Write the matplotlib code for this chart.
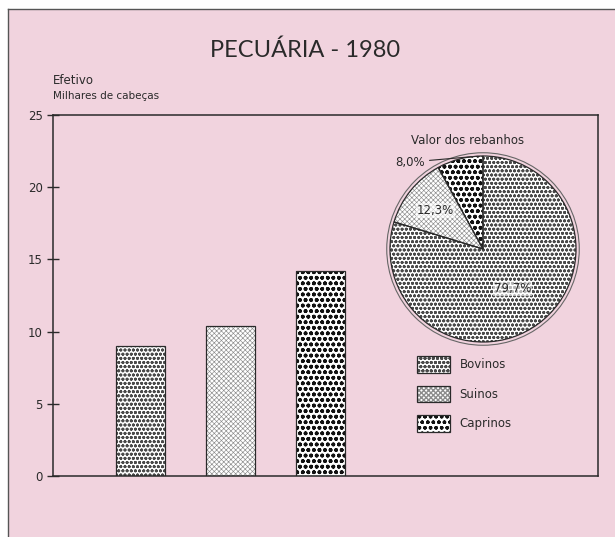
import numpy as np
import matplotlib
matplotlib.use("Agg")
import matplotlib.pyplot as plt
from matplotlib.patches import Rectangle, Circle, Wedge
from matplotlib.lines import Line2D

# data
categories = ["Bovinos", "Suinos", "Caprinos"]
efetivo = [9.0, 10.4, 14.2]           # milhares de cabeças
valor_pct = [79.7, 12.3, 8.0]         # valor dos rebanhos (%)
y_ticks = [0, 5, 10, 15, 20, 25]

W, H = 615, 537
PINK = "#f1d3de"
INK = "#2a2a2a"
FONT = "DejaVu Sans"

# hatch styles per category: (hatch, hatch colour, hatch linewidth)
styles = {
    "Bovinos": ("oooo", "#4a4a4a", 0.9),
    "Suinos": ("xxxxxxx", "#8c8c8c", 0.45),
    "Caprinos": ("ooo", "#111111", 1.15),
}


def fx(px):
    return px / W


def fy(py):
    return (H - py) / H


def hatched(patch_cls, *args, cat, **kw):
    hatch, hcol, hlw = styles[cat]
    with plt.rc_context({"hatch.linewidth": hlw}):
        p = patch_cls(*args, facecolor="white", edgecolor=hcol, hatch=hatch,
                      linewidth=0, **kw)
    if hasattr(p, "set_hatch_linewidth"):
        p.set_hatch_linewidth(hlw)
    return p


fig = plt.figure(figsize=(W / 100, H / 100), dpi=100, facecolor="white")

# pink card with top/left frame lines
fig.patches.append(Rectangle((fx(8), 0), 1 - fx(8), fy(9), transform=fig.transFigure,
                             facecolor=PINK, edgecolor="none", zorder=-5))
fig.add_artist(Line2D([fx(8), 1], [fy(9), fy(9)], color="#555555", lw=1.0, zorder=-4))
fig.add_artist(Line2D([fx(8), fx(8)], [0, fy(9)], color="#555555", lw=1.0, zorder=-4))

fig.text(fx(305), fy(50), "PECUÁRIA - 1980", ha="center", va="center",
         fontsize=17, color=INK, family="Lato")
fig.text(fx(53), fy(81), "Efetivo", ha="left", va="center", fontsize=8.5,
         color=INK, family=FONT)
fig.text(fx(53), fy(96), "Milhares de cabeças", ha="left", va="center",
         fontsize=7.5, color=INK, family=FONT)

# bar chart
ax = fig.add_axes([fx(53), fy(476), fx(598) - fx(53), fy(115) - fy(476)])
ax.set_facecolor("none")
step = 90.0
ax.set_xlim(-(140 - 53) / step, (598 - 140) / step)
ax.set_ylim(0, 25)
ax.set_yticks(y_ticks)
ax.set_xticks([])
ax.tick_params(axis="y", direction="inout", length=9, width=1.0, colors=INK,
               labelsize=8.5, pad=3)
for s in ax.spines.values():
    s.set_color(INK)
    s.set_linewidth(1.1)

width = 49 / step
for i, (cat, v) in enumerate(zip(categories, efetivo)):
    ax.add_patch(hatched(Rectangle, (i - width / 2, 0), width, v, cat=cat, zorder=2))
    ax.bar(i, v, width=width, facecolor="none", edgecolor=INK, linewidth=0.9, zorder=3)

# pie chart
S = 200
ax2 = fig.add_axes([fx(483 - S / 2), fy(249 + S / 2), S / W, S / H])
ax2.set_facecolor("none")
ax2.axis("off")
wedges, _ = ax2.pie(valor_pct, startangle=90, counterclock=False, radius=1.0,
                    wedgeprops=dict(linewidth=0))
for w, cat in zip(wedges, categories):
    w.set_visible(False)
    ax2.add_patch(hatched(Wedge, w.center, w.r, w.theta1, w.theta2, cat=cat, zorder=2))
    ax2.add_patch(Wedge(w.center, w.r, w.theta1, w.theta2, facecolor="none",
                        edgecolor=INK, linewidth=0.9, zorder=3))
ax2.add_patch(Circle((0, 0), 1.035, facecolor="none", edgecolor="#666666",
                     linewidth=0.8, zorder=3))
lim = (S / 2) / 93
ax2.set_xlim(-lim, lim)
ax2.set_ylim(-lim, lim)
ax2.set_aspect("equal")


def pct(v):
    return f"{v:.1f}%".replace(".", ",")


dists = [0.53, 0.66]
for w, v, d in zip(wedges[:2], valor_pct[:2], dists):
    a = np.deg2rad((w.theta1 + w.theta2) / 2)
    ax2.text(d * np.cos(a), d * np.sin(a), pct(v), ha="center", va="center",
             fontsize=8.5, color=INK, family=FONT, zorder=4,
             bbox=dict(facecolor="white", edgecolor="none", pad=0.5, alpha=0.6))
w = wedges[2]
a = np.deg2rad(w.theta1 + 0.25 * (w.theta2 - w.theta1))
ax2.annotate(pct(valor_pct[2]), xy=(np.cos(a), np.sin(a)), xytext=(-0.62, 0.935),
             ha="right", va="center", fontsize=8.5, color=INK, family=FONT,
             arrowprops=dict(arrowstyle="-", color=INK, lw=0.8,
                             shrinkA=1, shrinkB=0))
fig.text(fx(468), fy(140), "Valor dos rebanhos", ha="center", va="center",
         fontsize=8.5, color=INK, family=FONT)

# legend: hatched swatch with a dark outline on top
handles = []
for cat in categories:
    fill = hatched(Rectangle, (0, 0), 1, 1, cat=cat)
    outline = Rectangle((0, 0), 1, 1, facecolor="none", edgecolor=INK, linewidth=0.9)
    handles.append((fill, outline))
fs = 8.5
leg = fig.legend(handles, categories, loc="upper left",
                 bbox_to_anchor=(fx(417), fy(356)), frameon=False, fontsize=fs,
                 handlelength=33 / (fs * 100 / 72), handleheight=21 / (fs * 100 / 72),
                 labelspacing=1.1, handletextpad=0.8, borderpad=0, borderaxespad=0)
for t in leg.get_texts():
    t.set_color(INK)
    t.set_family(FONT)

fig.savefig("out.png", dpi=100, facecolor=fig.get_facecolor())
